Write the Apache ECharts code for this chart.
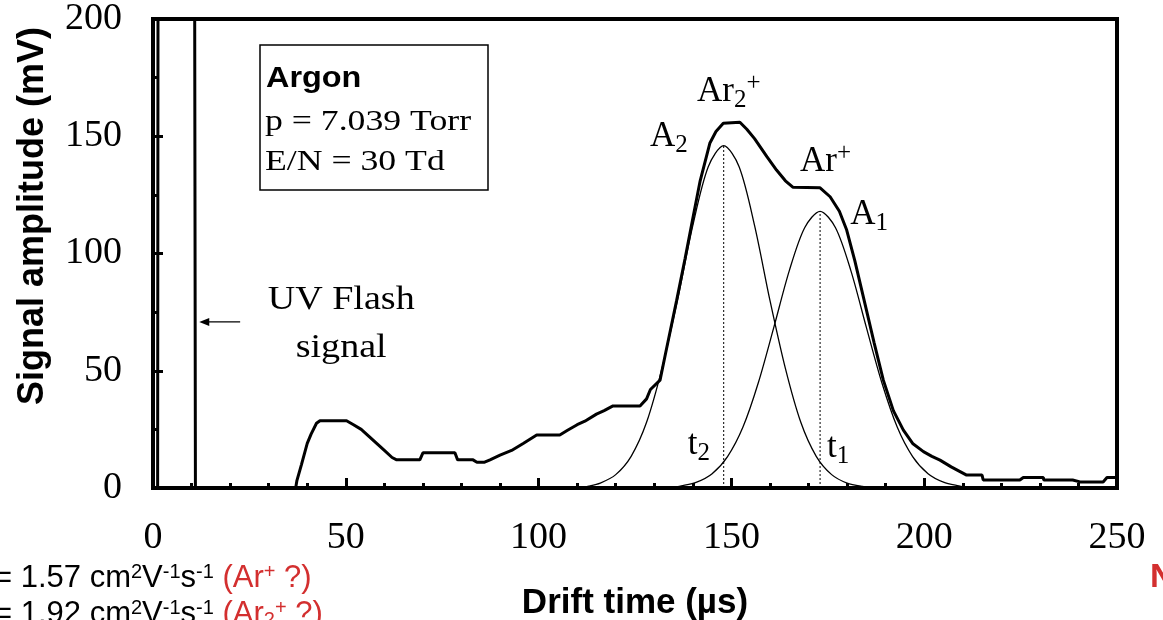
<!DOCTYPE html>
<html>
<head>
<meta charset="utf-8">
<script src="https://cdn.jsdelivr.net/npm/echarts@6/dist/echarts.min.js"></script>
<style>
	html, body { margin: 0; padding: 0; background: #fff; }
	#chart { width: 1163px; height: 620px; }
</style>
</head>
<body>
<div id="chart"></div>
<script>
// measured signal (drift time in µs, amplitude in mV)
const signalTrace = [
	[0, 0], [1.2, 0], [1.3, 215], [10.8, 215], [11, 0], [37, 0],
	[37.3, 3], [38.5, 10], [40, 19], [41, 23], [42.4, 27.6], [43.3, 28.7], [50.2, 28.7],
	[52, 27], [54, 25], [56, 22], [58, 19], [60, 16], [62, 13], [63.2, 12], [69.2, 12],
	[70, 15], [78.3, 15], [79, 12], [83, 12], [84, 11], [86, 11], [87.4, 12], [90, 14],
	[93, 16], [96, 19], [99.5, 22.6], [105.5, 22.6], [107.4, 24.5], [110, 27], [112, 28.5],
	[115, 31.5], [117, 33], [119.3, 35], [126.3, 35], [128, 38], [129, 42], [131.5, 46],
	[133, 58], [135.8, 80], [138, 98], [140, 115], [141.9, 131], [144.4, 147], [146, 152],
	[147.9, 155.5], [152.2, 156], [154, 153], [156, 149], [159.2, 141.3], [161.7, 135.6],
	[164, 131], [166, 128.2], [173, 128], [175.6, 124.2], [178, 118], [179.9, 110],
	[182, 97], [184.2, 81.6], [187, 62], [189.4, 46], [192, 33], [194.6, 24.7], [197, 19],
	[199.8, 15.5], [202, 13.5], [204.1, 11.9], [207, 9], [209.3, 7], [211, 5.5], [215, 5.5],
	[215.3, 3.4], [224.8, 3.4], [225.7, 4.5], [230.9, 4.5], [231, 3.4], [238.5, 3.4],
	[240.4, 2.6], [246.4, 2.6], [247.4, 4.5], [250, 4.5]
]

// fitted peak A2 (Ar2+)
const fitA2 = [
	[110, 0], [113, 0.8], [116, 2.1], [120, 5.7], [124, 13.5], [128, 28], [132, 51],
	[136, 80], [140, 112], [144, 137], [148, 146], [152, 137], [156, 112], [160, 80],
	[164, 51], [168, 28], [172, 13.5], [176, 5.7], [180, 2.1], [184, 0.7], [188, 0]
]

// fitted peak A1 (Ar+)
const fitA1 = [
	[134, 0], [137, 0.9], [141, 2.5], [145, 6.1], [149, 13.4], [153, 26], [157, 45],
	[161, 68.5], [165, 92.6], [169, 111], [173, 118], [177, 111], [181, 92.6], [185, 68.5],
	[189, 45], [193, 26], [197, 13.4], [201, 6.1], [205, 2.5], [209, 0.9], [212, 0]
]

// peak times t2, t1
const t2Line = [[148, 0], [148, 146]]
const t1Line = [[173, 0], [173, 118]]

const serif = "'Liberation Serif', 'Times New Roman', serif"
const sans = "'Liberation Sans', Arial, sans-serif"

const chart = echarts.init(document.getElementById("chart"))

const axisCommon = {
	type: "value",
	axisLine: { show: true, lineStyle: { color: "#000", width: 4 } },
	axisTick: { show: true, inside: true, length: 10, lineStyle: { color: "#000", width: 3 } },
	minorTick: { show: true, length: 5, lineStyle: { color: "#000", width: 3 } },
	splitLine: { show: false },
	minorSplitLine: { show: false }
}

chart.setOption({
	animation: false,
	grid: {
		left: 153,
		right: 46,
		top: 19,
		bottom: 132,
		outerBoundsMode: "none",
		containLabel: false,
		show: true,
		borderColor: "#000",
		borderWidth: 4
	},
	xAxis: Object.assign({}, axisCommon, {
		min: 0,
		max: 250,
		interval: 50,
		minorTick: Object.assign({}, axisCommon.minorTick, { splitNumber: 5 }),
		axisLabel: { fontFamily: serif, fontSize: 38, color: "#000", margin: 31 },
		name: "Drift time (\u00b5s)",
		nameLocation: "middle",
		nameGap: 98,
		nameTextStyle: { fontFamily: sans, fontWeight: "bold", fontSize: 35, color: "#000" }
	}),
	yAxis: Object.assign({}, axisCommon, {
		min: 0,
		max: 200,
		interval: 50,
		minorTick: Object.assign({}, axisCommon.minorTick, { splitNumber: 2 }),
		axisLabel: { fontFamily: serif, fontSize: 38, color: "#000", margin: 31 }
	}),
	series: [
		{
			name: "A2",
			type: "line",
			data: fitA2,
			smooth: 0.3,
			showSymbol: false,
			lineStyle: { color: "#000", width: 1.3 },
			z: 2
		},
		{
			name: "A1",
			type: "line",
			data: fitA1,
			smooth: 0.3,
			showSymbol: false,
			lineStyle: { color: "#000", width: 1.3 },
			z: 2
		},
		{
			name: "t2",
			type: "line",
			data: t2Line,
			showSymbol: false,
			lineStyle: { color: "#000", width: 1, type: [2, 2] },
			z: 1
		},
		{
			name: "t1",
			type: "line",
			data: t1Line,
			showSymbol: false,
			lineStyle: { color: "#000", width: 1, type: [2, 2] },
			z: 1
		},
		{
			name: "signal",
			type: "line",
			data: signalTrace,
			showSymbol: false,
			lineStyle: { color: "#000", width: 3 },
			z: 3
		}
	]
})

// annotations placed from data coordinates
const px = (t, v) => chart.convertToPixel({ gridIndex: 0 }, [t, v])

const richMain = {
	m: { fontFamily: serif, fontSize: 35, fill: "#000", lineHeight: 48, verticalAlign: "middle" },
	sub: { fontFamily: serif, fontSize: 25, fill: "#000", lineHeight: 48, verticalAlign: "bottom", padding: [0, 0, 3, 0] },
	sup: { fontFamily: serif, fontSize: 25, fill: "#000", lineHeight: 48, verticalAlign: "top", padding: [3, 0, 0, 0] }
}

function label(t, v, text) {
	const p = px(t, v)
	return {
		type: "text",
		x: p[0],
		y: p[1],
		style: { text: text, rich: richMain, align: "left", verticalAlign: "middle" }
	}
}

const arrowStart = px(22.6, 70.8)
const arrowEnd = px(12, 70.8)
const uv1 = px(48.8, 80.2)
const uv2 = px(48.8, 59.7)

const boxText = (x, y, text, font, sx) => ({
	type: "text", x: x, y: y, scaleX: sx, z: 11,
	style: { text: text, font: font, fill: "#000", verticalAlign: "middle" }
})

// units line fragments from the slide (rich text for super/subscripts)
const unitRich = {
	k: { fontFamily: sans, fontSize: 31, fill: "#000", lineHeight: 40, verticalAlign: "middle" },
	ks: { fontFamily: sans, fontSize: 20, fill: "#000", lineHeight: 40, verticalAlign: "top", padding: [4, 0, 0, 0] },
	r: { fontFamily: sans, fontSize: 31, fill: "#d32f2f", lineHeight: 40, verticalAlign: "middle" },
	rs: { fontFamily: sans, fontSize: 20, fill: "#d32f2f", lineHeight: 40, verticalAlign: "top", padding: [4, 0, 0, 0] },
	rb: { fontFamily: sans, fontSize: 20, fill: "#d32f2f", lineHeight: 40, verticalAlign: "bottom", padding: [0, 0, 4, 0] }
}

chart.setOption({
	graphic: [
		// info box
		{
			type: "rect",
			shape: { x: 260, y: 45, width: 228, height: 145 },
			style: { fill: "#fff", stroke: "#000", lineWidth: 1.5 },
			z: 10
		},
		boxText(266, 79, "Argon", "bold 30px " + sans, 1.08),
		boxText(265, 122, "p = 7.039 Torr", "30px " + serif, 1.19),
		boxText(265, 162, "E/N = 30 Td", "30px " + serif, 1.19),
		// peak labels
		label(141.1, 168.9, "{m|Ar}{sub|2}{sup|+}"),
		label(128.9, 149.7, "{m|A}{sub|2}"),
		label(167.8, 139, "{m|Ar}{sup|+}"),
		label(180.8, 116.4, "{m|A}{sub|1}"),
		label(138.7, 18.3, "{m|t}{sub|2}"),
		label(174.8, 17, "{m|t}{sub|1}"),
		// UV flash note
		{
			type: "text", x: uv1[0], y: uv1[1], scaleX: 1.12,
			style: { text: "UV Flash", font: "34px " + serif, fill: "#000", align: "center", verticalAlign: "middle" }
		},
		{
			type: "text", x: uv2[0], y: uv2[1], scaleX: 1.12,
			style: { text: "signal", font: "34px " + serif, fill: "#000", align: "center", verticalAlign: "middle" }
		},
		{
			type: "line",
			shape: { x1: arrowStart[0], y1: arrowStart[1], x2: arrowEnd[0] + 6, y2: arrowEnd[1] },
			style: { stroke: "#000", lineWidth: 1.3 }
		},
		{
			type: "polygon",
			shape: { points: [[arrowEnd[0], arrowEnd[1]], [arrowEnd[0] + 10, arrowEnd[1] - 4], [arrowEnd[0] + 10, arrowEnd[1] + 4]] },
			style: { fill: "#000" }
		},
		// y axis title
		{
			type: "text", x: 33, y: 216, rotation: Math.PI / 2,
			style: { text: "Signal amplitude (mV)", font: "bold 36px " + sans, fill: "#000", align: "center", verticalAlign: "middle" }
		},
		// slide fragments
		{
			type: "text", x: -6, y: 578,
			style: {
				text: "{k|= 1.57 cm}{ks|2}{k|V}{ks|-1}{k|s}{ks|-1}{k| }{r|(Ar}{rs|+}{r| ?)}",
				rich: unitRich,
				verticalAlign: "middle"
			}
		},
		{
			type: "text", x: -6, y: 614,
			style: {
				text: "{k|= 1.92 cm}{ks|2}{k|V}{ks|-1}{k|s}{ks|-1}{k| }{r|(Ar}{rb|2}{rs|+}{r| ?)}",
				rich: unitRich,
				verticalAlign: "middle"
			}
		},
		{
			type: "text", x: 1150, y: 578,
			style: { text: "N", font: "bold 34px " + sans, fill: "#d32f2f", verticalAlign: "middle" }
		}
	]
})
</script>
</body>
</html>
